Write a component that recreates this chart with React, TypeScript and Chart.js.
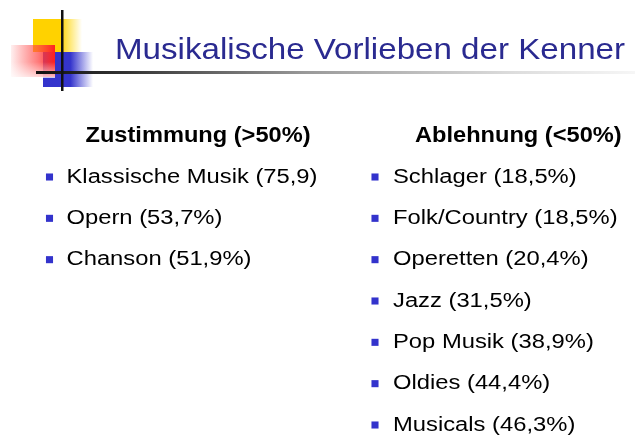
import { useEffect, useRef } from 'react';
import { Chart, registerables } from 'chart.js';

Chart.register(...registerables);

const TITLE = 'Musikalische Vorlieben der Kenner';
const groupHeaders = ['Zustimmung (>50%)', 'Ablehnung (<50%)'];

const approvalCategories = ['Klassische Musik', 'Opern', 'Chanson'];
const approvalValues = [75.9, 53.7, 51.9];
const approvalUnits = ['', '%', '%'];

const rejectionCategories = ['Schlager', 'Folk/Country', 'Operetten', 'Jazz', 'Pop Musik', 'Oldies', 'Musicals'];
const rejectionValues = [18.5, 18.5, 20.4, 31.5, 38.9, 44.4, 46.3];
const rejectionUnits = ['%', '%', '%', '%', '%', '%', '%'];

const fmt = (v: number, unit: string) => v.toFixed(1).replace('.', ',') + unit;

const approvalLabels = approvalCategories.map((c, i) => `${c} (${fmt(approvalValues[i], approvalUnits[i])})`);
const rejectionLabels = rejectionCategories.map((c, i) => `${c} (${fmt(rejectionValues[i], rejectionUnits[i])})`);

const FONT = '"Liberation Sans", Arial, sans-serif';

function drawFit(ctx: CanvasRenderingContext2D, text: string, x: number, y: number, sx: number) {
  ctx.save();
  ctx.translate(x, y);
  ctx.scale(sx, 1);
  ctx.fillText(text, 0, 0);
  ctx.restore();
}

const slidePlugin = {
  id: 'slide',
  beforeDraw(chart: any) {
    const ctx: CanvasRenderingContext2D = chart.ctx;
    ctx.save();
    ctx.fillStyle = '#ffffff';
    ctx.fillRect(0, 0, chart.width, chart.height);

    // yellow square
    let g = ctx.createLinearGradient(33, 0, 82, 0);
    g.addColorStop(0, '#ffd200');
    g.addColorStop(0.55, '#ffd200');
    g.addColorStop(1, 'rgba(255,215,0,0)');
    ctx.fillStyle = g;
    ctx.fillRect(33, 19, 49, 33);

    // blue square
    g = ctx.createLinearGradient(43, 0, 93, 0);
    g.addColorStop(0, '#3333cc');
    g.addColorStop(0.55, '#3535cc');
    g.addColorStop(1, 'rgba(60,60,210,0)');
    ctx.fillStyle = g;
    ctx.fillRect(43, 52, 50, 35);

    // red square
    g = ctx.createLinearGradient(11, 0, 55, 0);
    g.addColorStop(0, 'rgba(255,60,60,0.08)');
    g.addColorStop(0.6, 'rgba(255,70,70,0.7)');
    g.addColorStop(1, '#ff2020');
    ctx.fillStyle = g;
    ctx.fillRect(11, 45, 44, 32);
    g = ctx.createLinearGradient(0, 62, 0, 78);
    g.addColorStop(0, 'rgba(255,255,255,0)');
    g.addColorStop(1, 'rgba(255,255,255,0.75)');
    ctx.fillStyle = g;
    ctx.fillRect(11, 62, 44, 16);

    // horizontal rule
    g = ctx.createLinearGradient(36, 0, 635, 0);
    g.addColorStop(0, '#111111');
    g.addColorStop(0.15, '#333333');
    g.addColorStop(0.45, '#999999');
    g.addColorStop(0.8, '#dddddd');
    g.addColorStop(1, '#f6f6f6');
    ctx.fillStyle = g;
    ctx.fillRect(36, 71, 599, 3);

    // vertical rule
    ctx.fillStyle = '#111111';
    ctx.fillRect(61, 10, 2.5, 81);

    // title
    ctx.font = `29px ${FONT}`;
    ctx.fillStyle = '#2a2a90';
    ctx.textBaseline = 'alphabetic';
    const tw = ctx.measureText(TITLE).width;
    drawFit(ctx, TITLE, 115, 58.5, 510 / tw);
    ctx.restore();
  },
  afterDatasetsDraw(chart: any) {
    const ctx: CanvasRenderingContext2D = chart.ctx;
    ctx.save();
    ctx.fillStyle = '#000000';
    ctx.textBaseline = 'alphabetic';

    ctx.font = `bold 22px ${FONT}`;
    const hsx = 225 / ctx.measureText(groupHeaders[0]).width;
    const headerOffsets = [36, 40];
    chart.data.datasets.forEach((ds: any, di: number) => {
      const meta = chart.getDatasetMeta(di);
      const p0 = meta.data[0];
      drawFit(ctx, groupHeaders[di], p0.x + headerOffsets[di], p0.y - 35.5, hsx);
    });

    ctx.font = `20px ${FONT}`;
    const isx = 251 / ctx.measureText(approvalLabels[0]).width;
    const textOffsets = [17, 18];
    chart.data.datasets.forEach((ds: any, di: number) => {
      const meta = chart.getDatasetMeta(di);
      meta.data.forEach((pt: any, i: number) => {
        drawFit(ctx, ds.labels[i], pt.x + textOffsets[di], pt.y + 5.5, isx);
      });
    });
    ctx.restore();
  },
};

export default function App() {
  const ref = useRef<HTMLCanvasElement | null>(null);
  useEffect(() => {
    document.body.style.margin = '0';
    if (!ref.current) return;
    const chart = new Chart(ref.current, {
      type: 'scatter',
      data: {
        datasets: [
          {
            label: groupHeaders[0],
            labels: approvalLabels,
            data: approvalValues.map((v, i) => ({ x: 0, y: i, v })),
            pointStyle: 'rect',
            pointRadius: 5,
            pointBackgroundColor: '#3333cc',
            pointBorderWidth: 0,
            clip: false,
          } as any,
          {
            label: groupHeaders[1],
            labels: rejectionLabels,
            data: rejectionValues.map((v, i) => ({ x: 1, y: i, v })),
            pointStyle: 'rect',
            pointRadius: 5,
            pointBackgroundColor: '#3333cc',
            pointBorderWidth: 0,
            clip: false,
          } as any,
        ],
      },
      options: {
        animation: false,
        responsive: false,
        devicePixelRatio: 1,
        layout: { padding: { left: 49.5, right: 260, top: 177, bottom: 13 } },
        scales: {
          x: { type: 'linear', min: 0, max: 1, display: false },
          y: { type: 'linear', min: 0, max: 6, reverse: true, display: false },
        },
        plugins: {
          legend: { display: false },
          tooltip: { enabled: false },
          title: { display: false },
        },
      },
      plugins: [slidePlugin],
    });
    return () => chart.destroy();
  }, []);
  return <canvas ref={ref} width={635} height={438} style={{ display: 'block' }} />;
}
